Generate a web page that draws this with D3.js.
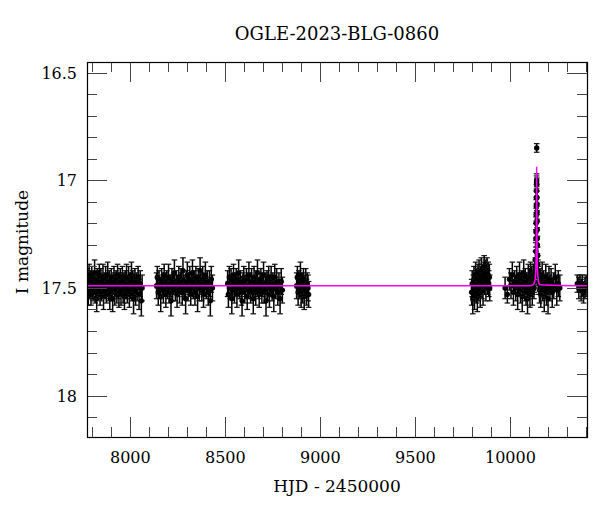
<!DOCTYPE html>
<html>
<head>
<meta charset="utf-8">
<script src="https://cdn.jsdelivr.net/npm/d3@7"></script>
<style>
  body { margin: 0; background: #fff; }
  text { font-family: "DejaVu Serif", "Liberation Serif", serif; fill: #000; }
</style>
</head>
<body>
<svg id="chart" width="600" height="512"></svg>
<script>
(function (d3) {
  'use strict';

  // photometry, [HJD-2450000, I mag, error], one array per observing season
  const season2017 = [
    [7775,17.46,.05],[7779,17.52,.06],[7783,17.44,.05],[7786,17.50,.05],[7790,17.48,.06],
    [7793,17.53,.05],[7797,17.45,.05],[7801,17.49,.06],[7804,17.51,.05],[7808,17.47,.05],
    [7812,17.43,.06],[7815,17.52,.05],[7819,17.49,.05],[7823,17.55,.06],[7826,17.46,.05],
    [7830,17.50,.05],[7834,17.48,.06],[7837,17.44,.05],[7841,17.53,.05],[7845,17.47,.06],
    [7848,17.51,.05],[7852,17.49,.05],[7856,17.45,.06],[7859,17.54,.06],[7863,17.48,.05],
    [7867,17.50,.05],[7870,17.46,.06],[7874,17.52,.05],[7878,17.49,.05],[7881,17.44,.06],
    [7885,17.51,.05],[7889,17.47,.05],[7892,17.53,.07],[7896,17.49,.05],[7900,17.46,.05],
    [7903,17.50,.06],[7907,17.55,.06],[7911,17.48,.05],[7914,17.45,.05],[7918,17.52,.06],
    [7922,17.49,.05],[7925,17.47,.05],[7929,17.51,.06],[7933,17.44,.05],[7936,17.50,.05],
    [7940,17.53,.06],[7944,17.48,.05],[7947,17.46,.05],[7951,17.52,.06],[7955,17.49,.05],
    [7958,17.45,.05],[7962,17.51,.06],[7966,17.48,.05],[7969,17.54,.06],[7973,17.47,.05],
    [7977,17.50,.05],[7980,17.45,.06],[7984,17.52,.05],[7988,17.49,.05],[7991,17.46,.06],
    [7995,17.53,.06],[7999,17.48,.05],[8002,17.50,.05],[8006,17.44,.06],[8010,17.51,.05],
    [8013,17.47,.05],[8017,17.55,.07],[8021,17.49,.05],[8024,17.46,.05],[8028,17.52,.06],
    [8032,17.48,.05],[8036,17.50,.06],[8041,17.45,.05],[8046,17.53,.07],[8052,17.48,.06],
    [8058,17.56,.07],[8062,17.50,.06]
  ];
  const season2018 = [
    [8138,17.49,.06],[8142,17.45,.05],[8147,17.52,.06],[8151,17.47,.05],[8156,17.50,.05],
    [8160,17.54,.07],[8165,17.46,.05],[8169,17.49,.05],[8174,17.51,.06],[8178,17.44,.05],
    [8183,17.48,.05],[8187,17.53,.06],[8192,17.47,.05],[8196,17.50,.05],[8201,17.45,.06],
    [8205,17.52,.05],[8210,17.49,.05],[8214,17.56,.07],[8219,17.46,.05],[8223,17.50,.06],
    [8228,17.48,.05],[8232,17.43,.06],[8237,17.51,.05],[8241,17.47,.05],[8246,17.53,.06],
    [8250,17.49,.05],[8255,17.45,.05],[8259,17.51,.06],[8264,17.48,.05],[8268,17.46,.05],
    [8273,17.52,.06],[8277,17.42,.06],[8282,17.49,.05],[8286,17.50,.05],[8291,17.55,.07],
    [8295,17.47,.05],[8300,17.44,.06],[8304,17.51,.05],[8309,17.48,.05],[8313,17.46,.06],
    [8318,17.53,.05],[8322,17.49,.05],[8327,17.43,.06],[8331,17.50,.05],[8336,17.47,.05],
    [8340,17.52,.06],[8345,17.45,.05],[8349,17.49,.05],[8354,17.54,.07],[8358,17.46,.05],
    [8363,17.50,.06],[8367,17.42,.06],[8372,17.48,.05],[8376,17.51,.05],[8381,17.46,.06],
    [8385,17.53,.06],[8390,17.49,.05],[8395,17.44,.06],[8400,17.50,.05],[8405,17.47,.05],
    [8410,17.52,.06],[8416,17.48,.06],[8421,17.56,.07],[8426,17.46,.06],[8432,17.50,.06]
  ];
  const season2019 = [
    [8512,17.48,.06],[8516,17.53,.06],[8521,17.45,.05],[8525,17.50,.05],[8530,17.47,.06],
    [8534,17.55,.07],[8539,17.49,.05],[8543,17.44,.05],[8548,17.51,.06],[8552,17.48,.05],
    [8557,17.46,.05],[8561,17.53,.06],[8566,17.49,.05],[8570,17.43,.06],[8575,17.50,.05],
    [8579,17.47,.05],[8584,17.52,.06],[8588,17.56,.07],[8593,17.48,.05],[8597,17.45,.05],
    [8602,17.51,.06],[8606,17.49,.05],[8611,17.46,.05],[8615,17.54,.06],[8620,17.50,.05],
    [8624,17.44,.06],[8629,17.48,.05],[8633,17.52,.05],[8638,17.47,.06],[8642,17.50,.05],
    [8647,17.55,.07],[8651,17.45,.05],[8656,17.49,.05],[8660,17.52,.06],[8665,17.47,.05],
    [8669,17.43,.06],[8674,17.50,.05],[8678,17.53,.06],[8683,17.48,.05],[8687,17.46,.05],
    [8692,17.51,.06],[8696,17.49,.05],[8701,17.44,.06],[8705,17.52,.05],[8710,17.48,.05],
    [8714,17.56,.07],[8719,17.47,.05],[8723,17.50,.06],[8728,17.45,.05],[8732,17.53,.06],
    [8737,17.49,.05],[8741,17.46,.06],[8746,17.51,.05],[8750,17.48,.05],[8755,17.54,.07],
    [8760,17.45,.06],[8765,17.50,.05],[8770,17.47,.06],[8776,17.52,.06],[8782,17.49,.06],
    [8788,17.55,.07],[8794,17.47,.06],[8800,17.51,.06]
  ];
  const season2020 = [
    [8875,17.49,.06],[8879,17.45,.05],[8883,17.52,.06],[8887,17.47,.05],[8891,17.50,.05],
    [8895,17.44,.06],[8899,17.53,.06],[8903,17.48,.05],[8907,17.51,.06],[8911,17.46,.05],
    [8915,17.54,.06],[8919,17.49,.05],[8923,17.47,.06],[8927,17.52,.06],[8931,17.48,.05],
    [8935,17.50,.06],[8938,17.53,.06]
  ];
  const season2022 = [
    [9796,17.52,.06],[9799,17.48,.06],[9802,17.55,.07],[9805,17.50,.06],[9808,17.46,.06],
    [9811,17.53,.07],[9814,17.49,.06],[9817,17.44,.06],[9820,17.51,.06],[9823,17.47,.06],
    [9826,17.54,.07],[9829,17.45,.06],[9832,17.50,.06],[9835,17.43,.06],[9838,17.48,.06],
    [9841,17.52,.07],[9844,17.46,.06],[9847,17.42,.06],[9850,17.49,.06],[9853,17.45,.06],
    [9856,17.51,.07],[9859,17.44,.06],[9862,17.41,.06],[9865,17.47,.06],[9868,17.43,.06],
    [9871,17.49,.07],[9874,17.45,.06],[9877,17.42,.06],[9880,17.47,.06],[9883,17.44,.06],
    [9886,17.48,.06],[9889,17.45,.06],[9891,17.50,.06]
  ];
  const season2023 = [
    [9972,17.50,.05],[9984,17.53,.04],[9995,17.46,.05],[10003,17.49,.06],[10010,17.44,.06],
    [10016,17.52,.06],[10022,17.47,.05],[10028,17.50,.06],[10033,17.45,.05],[10038,17.53,.07],
    [10043,17.48,.05],[10048,17.44,.06],[10053,17.51,.06],[10058,17.47,.05],[10062,17.54,.07],
    [10066,17.49,.05],[10070,17.43,.06],[10074,17.50,.06],[10078,17.46,.05],[10082,17.52,.06],
    [10086,17.48,.05],[10090,17.55,.07],[10094,17.45,.06],[10097,17.50,.05],[10100,17.47,.06],
    [10103,17.53,.06],[10106,17.44,.06],[10109,17.49,.05],[10112,17.46,.06],[10115,17.52,.06],
    [10118,17.48,.05],[10121,17.45,.06],[10124,17.50,.05],[10126,17.47,.05],[10128,17.44,.05],
    [10130,17.42,.05],[10131,17.40,.04],[10132,17.37,.04],[10133,17.33,.04],[10134,17.27,.04],
    [10134.5,17.24,.04],[10135,17.20,.03],[10135.5,17.16,.03],[10136,17.12,.03],[10136.5,17.08,.03],
    [10137,17.05,.03],[10137.5,17.01,.03],[10138,17.00,.03],[10138.2,16.85,.02],[10138.8,17.02,.03],
    [10139.3,17.08,.03],[10139.6,17.11,.03],[10140,17.15,.03],[10140.5,17.19,.03],[10141,17.23,.04],
    [10141.5,17.27,.04],[10142,17.30,.04],[10143,17.35,.04],[10144,17.39,.04],[10145,17.42,.05],
    [10147,17.45,.05],[10150,17.48,.05],[10153,17.51,.06],[10156,17.46,.05],[10160,17.53,.06],
    [10163,17.49,.05],[10167,17.44,.06],[10170,17.51,.05],[10174,17.47,.05],[10178,17.54,.07],
    [10182,17.49,.05],[10186,17.45,.06],[10190,17.52,.06],[10194,17.48,.05],[10198,17.55,.07],
    [10203,17.46,.06],[10208,17.50,.06],[10214,17.47,.06],[10220,17.52,.07],[10228,17.49,.06],
    [10236,17.45,.06],[10244,17.51,.07],[10252,17.48,.06],[10260,17.50,.06]
  ];
  const season2024 = [
    [10352,17.48,.04],[10360,17.50,.05],[10366,17.48,.04],[10372,17.51,.05],
    [10378,17.49,.05],[10385,17.52,.05],[10392,17.50,.05],[10398,17.49,.05]
  ];

  // model curve, [HJD-2450000, I mag]
  const model = [
    [7772,17.49],[10100,17.49],[10120,17.485],[10128,17.47],[10132,17.44],[10134,17.40],
    [10135.5,17.33],[10136.5,17.22],[10137.3,17.08],[10138,16.94],[10138.7,17.08],
    [10139.5,17.22],[10140.5,17.33],[10142,17.40],[10144,17.44],[10148,17.47],
    [10156,17.485],[10403,17.49]
  ];

  const xMajor = [8000, 8500, 9000, 9500, 10000];
  const yMajor = [16.5, 17, 17.5, 18];

  const TITLE = 'OGLE-2023-BLG-0860';
  const X_LABEL = 'HJD - 2450000';
  const Y_LABEL = 'I magnitude';

  const obs = [].concat(season2017, season2018, season2019, season2020,
                        season2022, season2023, season2024);

  const svg = d3.select('#chart');
  const left = 87, right = 587, top = 62, bottom = 437;
  const MAJOR = 20, MINOR = 10;

  const x = d3.scaleLinear().domain([7772, 10403]).range([left, right]);
  const y = d3.scaleLinear().domain([16.451, 18.192]).range([top, bottom]);

  svg.append('clipPath').attr('id', 'plotclip')
    .append('rect')
    .attr('x', left).attr('y', top)
    .attr('width', right - left).attr('height', bottom - top);

  const plot = svg.append('g').attr('clip-path', 'url(#plotclip)');

  // error bars
  const bars = plot.selectAll('g.pt')
    .data(obs)
    .enter()
    .append('g')
    .attr('class', 'pt');

  bars.append('line')
    .attr('x1', (d) => x(d[0])).attr('x2', (d) => x(d[0]))
    .attr('y1', (d) => y(d[1] - d[2])).attr('y2', (d) => y(d[1] + d[2]))
    .attr('stroke', '#000').attr('stroke-width', 1.5);
  bars.append('line')
    .attr('x1', (d) => x(d[0]) - 2.8).attr('x2', (d) => x(d[0]) + 2.8)
    .attr('y1', (d) => y(d[1] - d[2])).attr('y2', (d) => y(d[1] - d[2]))
    .attr('stroke', '#111').attr('stroke-width', 1.2);
  bars.append('line')
    .attr('x1', (d) => x(d[0]) - 2.8).attr('x2', (d) => x(d[0]) + 2.8)
    .attr('y1', (d) => y(d[1] + d[2])).attr('y2', (d) => y(d[1] + d[2]))
    .attr('stroke', '#111').attr('stroke-width', 1.2);
  bars.append('circle')
    .attr('cx', (d) => x(d[0])).attr('cy', (d) => y(d[1]))
    .attr('r', 2.7)
    .attr('fill', '#000');

  // model on top of the points
  plot.append('path')
    .datum(model)
    .attr('fill', 'none')
    .attr('stroke', '#ff00ff')
    .attr('stroke-width', 1.5)
    .attr('d', d3.line().x((d) => x(d[0])).y((d) => y(d[1])).curve(d3.curveMonotoneX));

  // ticks on all four sides, pointing in
  const tickCol = '#444';
  const xMinor = d3.range(7800, 10401, 100).filter((v) => v % 500 !== 0);
  const yMinor = d3.range(165, 182, 1).map((v) => v / 10).filter((v) => Math.round(v * 10) % 5 !== 0);
  const ticks = svg.append('g').attr('stroke', tickCol).attr('stroke-width', 1);

  const xTicks = xMajor.map((v) => [v, MAJOR]).concat(xMinor.map((v) => [v, MINOR]));
  xTicks.forEach(([v, len]) => {
    const px = Math.round(x(v)) + 0.5;
    ticks.append('line').attr('x1', px).attr('x2', px).attr('y1', bottom).attr('y2', bottom - len);
    ticks.append('line').attr('x1', px).attr('x2', px).attr('y1', top).attr('y2', top + len);
  });
  const yTicks = yMajor.map((v) => [v, MAJOR]).concat(yMinor.map((v) => [v, MINOR]));
  yTicks.forEach(([v, len]) => {
    const py = Math.round(y(v)) + 0.5;
    ticks.append('line').attr('y1', py).attr('y2', py).attr('x1', left).attr('x2', left + len);
    ticks.append('line').attr('y1', py).attr('y2', py).attr('x1', right).attr('x2', right - len);
  });

  svg.append('rect')
    .attr('x', left + 0.5).attr('y', top + 0.5)
    .attr('width', right - left).attr('height', bottom - top)
    .attr('fill', 'none').attr('stroke', '#000').attr('stroke-width', 1.2);

  // tick labels
  svg.selectAll('text.xlab')
    .data(xMajor)
    .enter()
    .append('text')
    .attr('x', (v) => x(v))
    .attr('y', 463)
    .attr('text-anchor', 'middle')
    .style('font-size', '16px')
    .text((v) => v);

  svg.selectAll('text.ylab')
    .data(yMajor)
    .enter()
    .append('text')
    .attr('x', 77)
    .attr('y', (v) => y(v) + 6)
    .attr('text-anchor', 'end')
    .style('font-size', '16px')
    .text((v) => v);

  svg.append('text')
    .attr('x', (left + right) / 2).attr('y', 40)
    .attr('text-anchor', 'middle')
    .style('font-size', '18px')
    .text(TITLE);

  svg.append('text')
    .attr('x', (left + right) / 2).attr('y', 492)
    .attr('text-anchor', 'middle')
    .style('font-size', '17px')
    .text(X_LABEL);

  svg.append('text')
    .attr('transform', 'translate(28,242) rotate(-90)')
    .attr('text-anchor', 'middle')
    .style('font-size', '17px')
    .text(Y_LABEL);

}(d3));
</script>
</body>
</html>
